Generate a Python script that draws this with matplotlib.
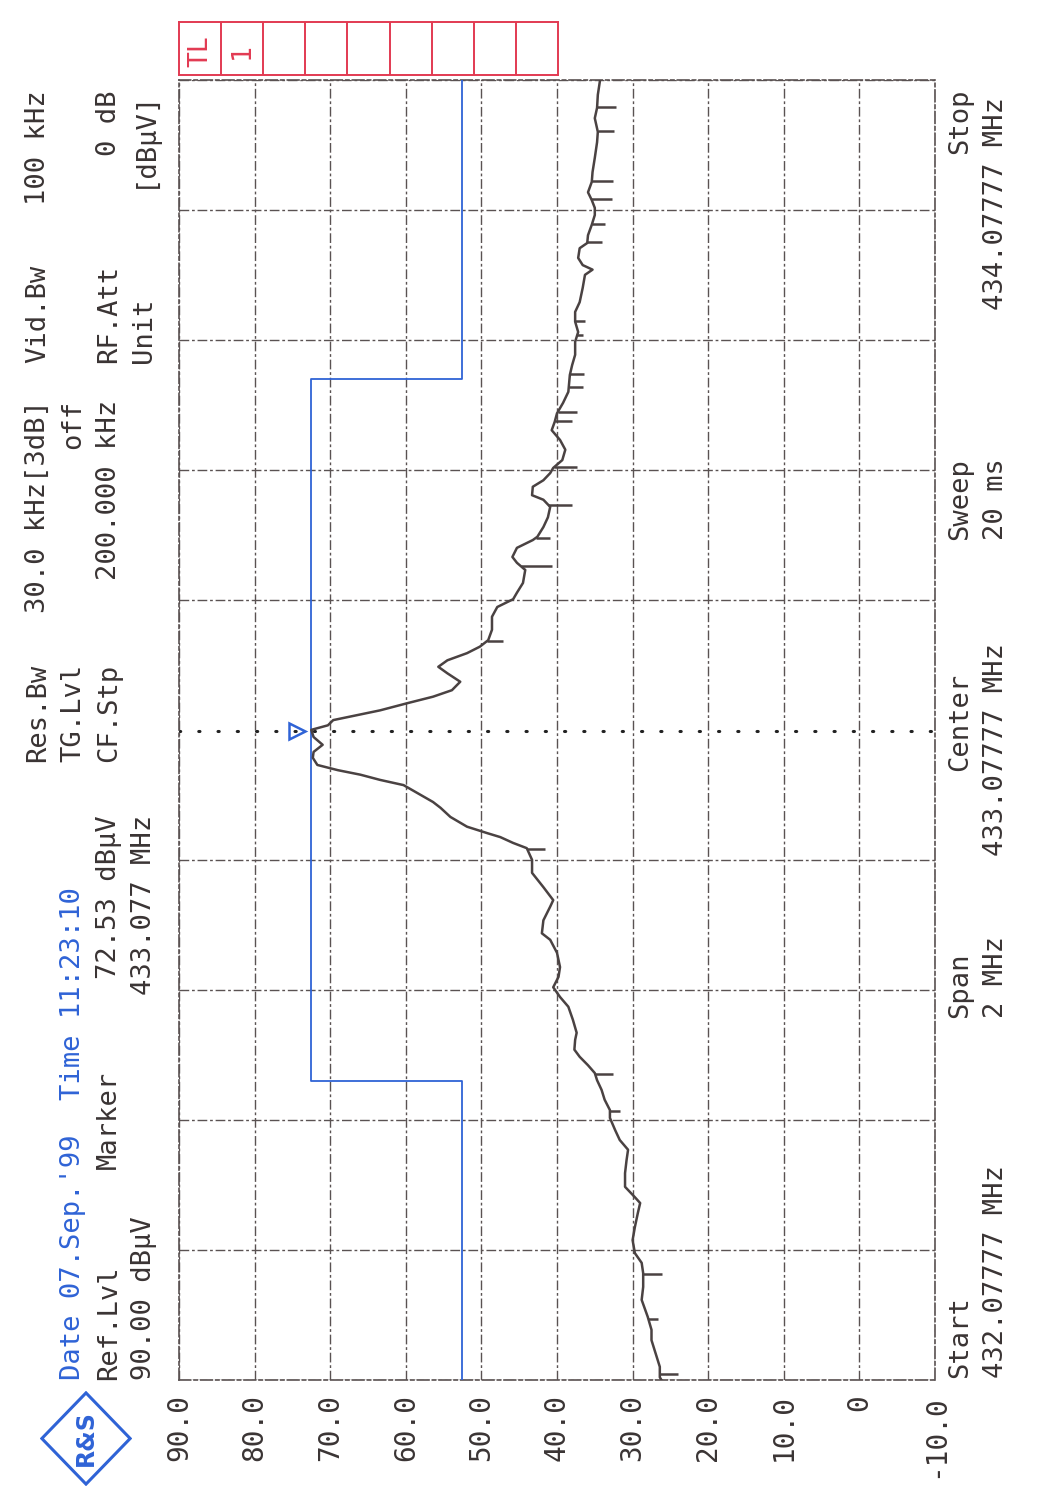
import matplotlib
matplotlib.use('Agg')
import matplotlib.pyplot as plt
import numpy as np
from matplotlib.patches import Polygon

# spectrum trace: frequency (MHz) and level (dBuV)
freq_mhz = [432.078, 432.082, 432.098, 432.113, 432.139, 432.155, 432.175, 432.201, 432.221, 432.242,
            432.258, 432.273, 432.293, 432.313, 432.335, 432.350, 432.359, 432.375, 432.396, 432.416,
            432.432, 432.447, 432.462, 432.481, 432.493, 432.509, 432.524, 432.539, 432.550, 432.562,
            432.575, 432.586, 432.601, 432.612, 432.632, 432.652, 432.667, 432.682, 432.698, 432.713,
            432.735, 432.755, 432.765, 432.785, 432.806, 432.816, 432.836, 432.858, 432.878, 432.896,
            432.904, 432.913, 432.919, 432.929, 432.944, 432.958, 432.967, 432.981, 432.993, 433.001,
            433.009, 433.016, 433.024, 433.035, 433.044, 433.055, 433.067, 433.078, 433.085, 433.093,
            433.108, 433.119, 433.129, 433.139, 433.152, 433.165, 433.175, 433.185, 433.196, 433.206,
            433.216, 433.232, 433.252, 433.267, 433.279, 433.289, 433.304, 433.324, 433.335, 433.344,
            433.358, 433.370, 433.375, 433.390, 433.405, 433.421, 433.432, 433.439, 433.452, 433.462,
            433.473, 433.481, 433.493, 433.509, 433.524, 433.539, 433.552, 433.565, 433.581, 433.598,
            433.624, 433.639, 433.655, 433.675, 433.690, 433.706, 433.721, 433.736, 433.758, 433.778,
            433.786, 433.793, 433.804, 433.819, 433.827, 433.839, 433.855, 433.870, 433.881, 433.893,
            433.905, 433.921, 433.936, 433.958, 433.982, 433.998, 434.019, 434.035, 434.055, 434.078]
level_dbuv = [26.2, 26.4, 26.4, 26.8, 27.5, 27.5, 28.0, 28.8, 28.6, 28.6,
              28.8, 29.7, 30.0, 29.7, 29.3, 29.0, 29.7, 31.0, 31.0, 30.8,
              30.6, 31.7, 32.3, 33.0, 33.0, 33.7, 34.1, 34.7, 35.0, 35.9,
              37.0, 37.7, 37.6, 37.4, 37.9, 38.5, 39.6, 40.5, 39.8, 39.6,
              40.0, 40.9, 42.0, 41.8, 40.9, 40.5, 41.8, 43.3, 43.3, 44.0,
              45.8, 47.5, 49.2, 51.9, 54.1, 55.4, 56.4, 58.5, 60.3, 63.4,
              66.0, 69.0, 71.7, 72.3, 72.2, 71.0, 72.2, 72.5, 70.3, 69.6,
              63.4, 59.8, 56.4, 53.9, 52.8, 54.5, 55.7, 54.5, 51.9, 50.2,
              49.1, 48.6, 48.6, 47.9, 45.8, 45.3, 44.5, 44.2, 45.3, 45.9,
              45.3, 43.2, 42.6, 41.8, 41.2, 40.9, 41.8, 43.3, 43.2, 41.8,
              40.9, 40.5, 39.3, 38.9, 39.6, 40.7, 40.3, 40.0, 39.2, 38.5,
              38.3, 38.0, 37.6, 37.6, 37.2, 37.6, 37.6, 37.0, 36.6, 36.3,
              35.3, 36.6, 37.2, 37.0, 36.0, 35.9, 35.4, 35.0, 35.0, 35.4,
              35.9, 35.4, 35.3, 35.0, 34.7, 34.6, 35.0, 34.7, 34.6, 34.3]

# narrow downward spikes on the trace
spike_freq = [432.087, 432.172, 432.241, 432.492, 432.549, 432.895, 433.215, 433.330, 433.373,
              433.424, 433.482, 433.553, 433.567, 433.606, 433.625, 433.686, 433.707, 433.829,
              433.856, 433.895, 433.922, 433.999, 434.036]
spike_level = [24.0, 26.7, 26.1, 31.7, 32.6, 41.6, 47.1, 40.7, 40.9,
               38.0, 37.4, 38.0, 37.4, 36.6, 36.4, 36.6, 36.3, 34.1,
               33.7, 32.7, 32.6, 32.5, 32.2]

# limit line TL1
limit_freq = [432.07777, 432.538, 432.538, 433.618, 433.618, 434.07777]
limit_level = [52.5, 52.5, 72.5, 72.5, 52.5, 52.5]

level_ticks = [90, 80, 70, 60, 50, 40, 30, 20, 10, 0, -10]
level_labels = ['90.0', '80.0', '70.0', '60.0', '50.0', '40.0', '30.0', '20.0', '10.0', '0', '-10.0']
start_f, stop_f = 432.07777, 434.07777
marker_f, marker_lvl = 433.077, 72.53

W, H = 1046, 1508
plt.rcParams['font.family'] = ['DejaVu Sans Mono', 'DejaVu Sans']
dark = '#3a3434'
blue = '#2f63d6'
red = '#e23a52'
gridc = '#5a5252'
gls = (0, (7, 2, 2, 2))

fig = plt.figure(figsize=(W / 100, H / 100), dpi=100)
fig.patch.set_facecolor('white')

ax = fig.add_axes([179 / W, 1 - 1380 / H, 756 / W, 1300 / H])
ax.set_xlim(90, -10)
ax.set_ylim(start_f, stop_f)

# grid (the centre line is replaced by the marker dots)
for lv in level_ticks:
    ax.axvline(lv, color=gridc, lw=1.0, ls=gls, zorder=1)
for i, f in enumerate(np.linspace(start_f, stop_f, 11)):
    if i != 5:
        ax.axhline(f, color=gridc, lw=1.0, ls=gls, zorder=1)
for s in ax.spines.values():
    s.set_color(gridc)
    s.set_linewidth(1.2)
    s.set_linestyle(gls)

ax.set_xticks(level_ticks)
ax.set_xticklabels(level_labels, rotation=90, fontsize=20, color=dark)
ax.tick_params(axis='x', length=0, pad=10)
ax.set_yticks([])

# limit line, trace, spikes
ax.plot(limit_level, limit_freq, color=blue, lw=1.3, zorder=3)
ax.plot(level_dbuv, freq_mhz, color='#4a4242', lw=1.8, zorder=4)
base = np.interp(spike_freq, freq_mhz, level_dbuv)
ax.hlines(spike_freq, base, spike_level, color='#4a4242', lw=1.8, zorder=4)

# marker
ax.axhline(marker_f, color='#222222', lw=2.2, ls=(0, (0.4, 5.9)), dash_capstyle='round', zorder=2)
ax.plot(marker_lvl + 1.9, marker_f, marker='>', ms=12, mfc='none', mec=blue, mew=1.8,
        clip_on=False, zorder=5)

# limit line box TL 1
tl = fig.add_axes([179 / W, 1 - 75 / H, 379 / W, 53 / H])
tl.set_xlim(0, 9)
tl.set_ylim(0, 1)
for i in range(1, 9):
    tl.axvline(i, color=red, lw=1.4)
for s in tl.spines.values():
    s.set_color(red)
    s.set_linewidth(1.4)
tl.set_xticks([])
tl.set_yticks([])
tl.text(0.5, 0.45, 'TL', rotation=90, ha='center', va='center', color=red, fontsize=19)
tl.text(1.5, 0.45, '1', rotation=90, ha='center', va='center', color=red, fontsize=19)

# logo
la = fig.add_axes([40 / W, 1 - 1486 / H, 92 / W, 95 / H])
la.axis('off')
la.set_xlim(0, 1)
la.set_ylim(0, 1)
la.add_patch(Polygon([(0.5, 0.02), (0.98, 0.5), (0.5, 0.98), (0.02, 0.5)], closed=True,
                     fill=False, ec=blue, lw=2.2))
la.text(0.5, 0.5, 'R&S', rotation=90, ha='center', va='center', color=blue, fontsize=17,
        fontweight='bold', family='DejaVu Sans')


def label(x, y, s, va='bottom', color=dark, size=19.5):
    fig.text(x / W, 1 - y / H, s, rotation=90, ha='center', va=va, color=color, fontsize=size)


# header
label(38, 762, 'Res.Bw')
label(38, 400, '30.0 kHz[3dB]', va='top')
label(38, 363, 'Vid.Bw')
label(38, 90, '100 kHz', va='top')
label(73, 1380, "Date 07.Sep.'99", color=blue)
label(73, 1100, 'Time 11:23:10', color=blue)
label(73, 762, 'TG.Lvl')
label(73, 400, 'off', va='top')
label(109, 1380, 'Ref.Lvl')
label(109, 1169, 'Marker')
label(109, 815, '72.53 dBµV', va='top')
label(109, 762, 'CF.Stp')
label(109, 400, '200.000 kHz', va='top')
label(109, 363, 'RF.Att')
label(109, 90, '0 dB', va='top')
label(144, 1380, '90.00 dBµV')
label(144, 815, '433.077 MHz', va='top')
label(144, 363, 'Unit')
label(144, 90, '[dBµV]', va='top')

# footer
label(960, 1378, 'Start')
label(996, 1378, '432.07777 MHz')
label(960, 1018, 'Span')
label(996, 1018, '2 MHz')
label(960, 771, 'Center')
label(996, 856, '433.07777 MHz')
label(960, 540, 'Sweep')
label(996, 540, '20 ms')
label(960, 88, 'Stop', va='top')
label(996, 97, '434.07777 MHz', va='top')

fig.savefig('out.png', dpi=100)
